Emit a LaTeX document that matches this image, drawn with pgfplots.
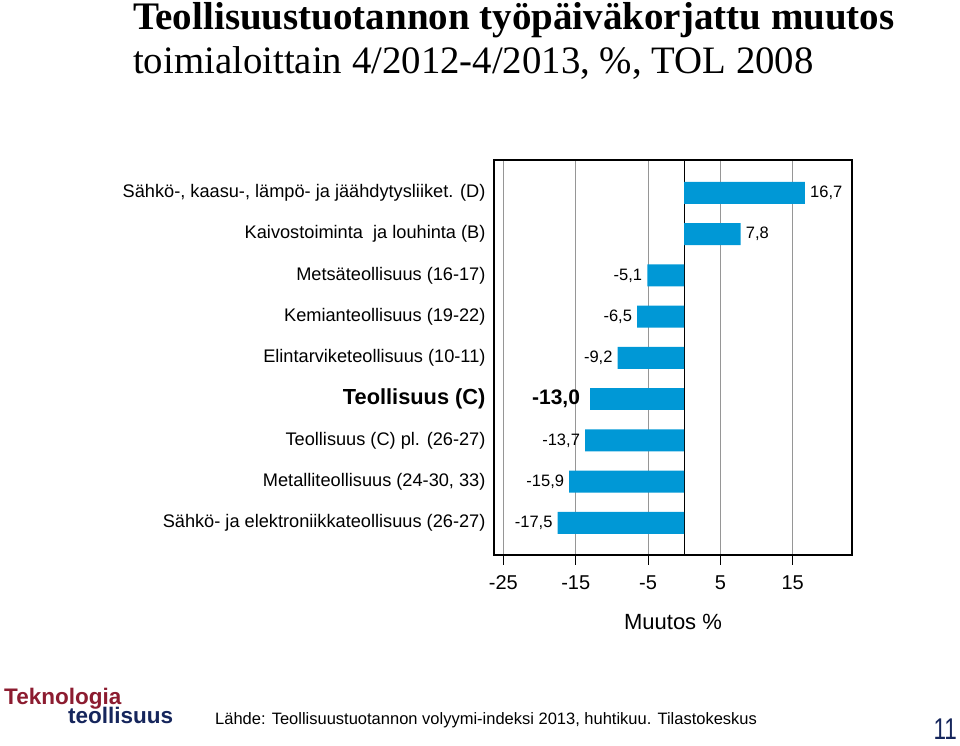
\documentclass[border=0pt]{standalone}
\usepackage{pgfplots}
\pgfplotsset{compat=1.18}
\usepackage{fontspec}
\setmainfont{Liberation Sans}
\newfontfamily\timesfont{Liberation Serif}
\definecolor{barblue}{RGB}{0,152,214}
\definecolor{gridgray}{RGB}{150,150,150}
\definecolor{logored}{RGB}{140,28,48}
\definecolor{logonavy}{RGB}{22,38,92}
\newcommand\fs[1]{\fontsize{#1}{#1}\selectfont}
\begin{document}
\begin{tikzpicture}[x=1pt,y=1pt]
\path[use as bounding box] (0,0) rectangle (960,746);
% titles
\node[anchor=base west,inner sep=0pt] at (133,716) {\timesfont\bfseries\fs{39}Teollisuustuotannon työpäiväkorjattu muutos};
\node[anchor=base west,inner sep=0pt] at (133,672) {\timesfont\fs{38.8}toimialoittain 4/2012-4/2013, \%, TOL 2008};
\begin{axis}[
  at={(494pt,191pt)}, anchor=south west,
  scale only axis, width=358pt, height=395pt,
  xbar, bar width=22pt, bar shift=0pt,
  nodes near coords, point meta=explicit symbolic,
  xmin=-26.3, xmax=23.2, ymin=-0.78, ymax=8.8,
  axis line style={black, line width=1.2pt},
  xtick={-25,-15,-5,5,15},
  xticklabels={-25,-15,-5,5,15},
  xtick pos=bottom,
  tick align=outside,
  major tick length=10pt,
  xtick style={black, line width=1pt},
  xmajorgrids,
  major grid style={gridgray, line width=0.8pt},
  extra x ticks={0},
  extra x tick labels={},
  extra x tick style={grid=major, major grid style={black, line width=1.2pt}, major tick length=0pt},
  xticklabel style={font=\fs{20}, yshift=-7pt},
  xlabel={Muutos \%},
  xlabel style={font=\fs{22}, yshift=-8pt},
  ytick={0,...,8},
  yticklabels={
    Sähkö- ja elektroniikkateollisuus (26-27),
    {Metalliteollisuus (24-30, 33)},
    Teollisuus (C) pl. (26-27),
    {\bfseries\fs{21.8}Teollisuus (C)},
    Elintarviketeollisuus (10-11),
    Kemianteollisuus (19-22),
    Metsäteollisuus (16-17),
    Kaivostoiminta\ \ ja louhinta (B),
    {Sähkö-, kaasu-, lämpö- ja jäähdytysliiket. (D)}},
  ytick style={draw=none},
  yticklabel style={font=\fs{18.2}, xshift=5pt},
  clip=false,
]
% positive values
\addplot[fill=barblue, draw=none,
  every node near coord/.append style={font=\fs{16.5}, inner sep=5pt, anchor=west}]
  table[x=x,y=y,meta=lab] {
x y lab
16.7 8 16,7
7.8 7 7,8
};
% negative values
\addplot[fill=barblue, draw=none,
  every node near coord/.append style={font=\fs{16.5}, inner sep=5pt, anchor=east}]
  table[x=x,y=y,meta=lab] {
x y lab
-5.1 6 -5,1
-6.5 5 -6,5
-9.2 4 -9,2
-13.7 2 -13,7
-15.9 1 -15,9
-17.5 0 -17,5
};
% total industry (bold)
\addplot[fill=barblue, draw=none,
  every node near coord/.append style={font=\bfseries\fs{21}, inner sep=5pt, anchor=east, xshift=-5pt}]
  table[x=x,y=y,meta=lab] {
x y lab
-13.0 3 -13,0
};
\end{axis}
% footer
\node[anchor=base west,inner sep=0pt,text=logored] at (4,41) {\bfseries\fs{22.5}Teknologia};
\node[anchor=base west,inner sep=0pt,text=logonavy] at (68,22) {\bfseries\fs{22.5}teollisuus};
\node[anchor=base west,inner sep=0pt] at (215,21) {\fs{16.5}Lähde: Teollisuustuotannon volyymi-indeksi 2013, huhtikuu. Tilastokeskus};
\node[anchor=base east,inner sep=0pt,text=logonavy,xscale=0.75] at (957,6) {\fs{30}11};
\end{tikzpicture}
\end{document}
